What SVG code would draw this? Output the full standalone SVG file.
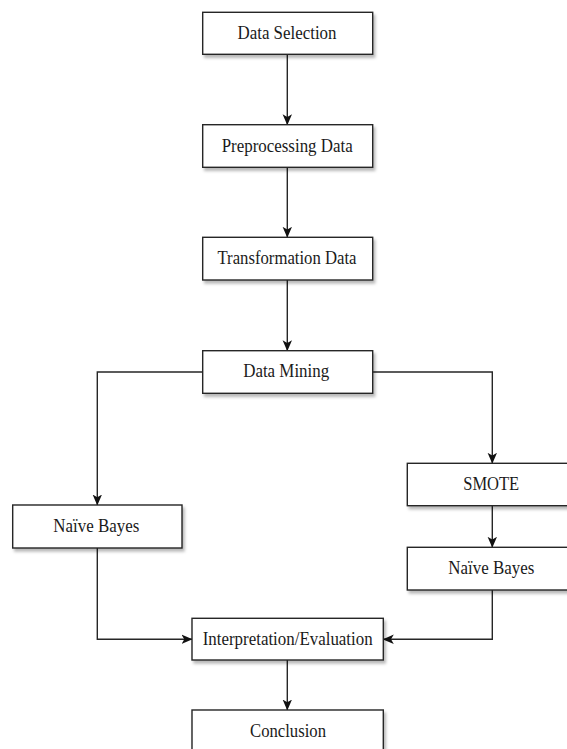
<svg xmlns="http://www.w3.org/2000/svg" width="567" height="749" viewBox="0 0 567 749">
<defs>
<style>
.box{fill:#ffffff;stroke:#262626;stroke-width:1.4;filter:url(#sh)}
.lbl{font-family:"Liberation Serif","Times New Roman",serif;font-size:18.5px;fill:#1a1a1a;text-anchor:middle}
.con{fill:none;stroke:#262626;stroke-width:1.4}
</style>
<filter id="sh" x="-10%" y="-20%" width="130%" height="160%">
<feDropShadow dx="2" dy="3" stdDeviation="1.6" flood-color="#000" flood-opacity="0.28"/>
</filter>
<marker id="arr" viewBox="0 0 11 10" refX="10.5" refY="5" markerWidth="11" markerHeight="10" markerUnits="userSpaceOnUse" orient="auto">
<path d="M0,0.3 L11,5 L0,9.7 L2.8,5 z" fill="#111"/>
</marker>
</defs>
<rect width="567" height="749" fill="#ffffff"/>
<g id="connectors">
<path class="con" d="M287.3,54.3 V124.7" marker-end="url(#arr)"/>
<path class="con" d="M287.3,167.3 V237.3" marker-end="url(#arr)"/>
<path class="con" d="M287.3,280 V350.7" marker-end="url(#arr)"/>
<path class="con" d="M202.7,372 H97.3 V505" marker-end="url(#arr)"/>
<path class="con" d="M372.7,372 H492.3 V463.3" marker-end="url(#arr)"/>
<path class="con" d="M492.3,505.7 V547.3" marker-end="url(#arr)"/>
<path class="con" d="M97.3,548 V639.3 H192" marker-end="url(#arr)"/>
<path class="con" d="M492.3,590 V639.3 H383.3" marker-end="url(#arr)"/>
<path class="con" d="M287.3,660 V710" marker-end="url(#arr)"/>
</g>
<g id="data-selection">
<rect class="box" x="202.7" y="12.3" width="170" height="42"/>
<text class="lbl" x="287" y="39" textLength="99" lengthAdjust="spacingAndGlyphs">Data Selection</text>
</g>
<g id="preprocessing">
<rect class="box" x="202.7" y="124.7" width="170" height="42.6"/>
<text class="lbl" x="287.2" y="151.7" textLength="131" lengthAdjust="spacingAndGlyphs">Preprocessing Data</text>
</g>
<g id="transformation">
<rect class="box" x="202.7" y="237.3" width="170" height="42.7"/>
<text class="lbl" x="287" y="264.4" textLength="139" lengthAdjust="spacingAndGlyphs">Transformation Data</text>
</g>
<g id="data-mining">
<rect class="box" x="202.7" y="350.7" width="170" height="42.6"/>
<text class="lbl" x="286.2" y="377.4" textLength="86" lengthAdjust="spacingAndGlyphs">Data Mining</text>
</g>
<g id="naive-bayes-left">
<rect class="box" x="12.7" y="505" width="169.3" height="43"/>
<text class="lbl" x="96.3" y="532.2" textLength="86" lengthAdjust="spacingAndGlyphs">Naïve Bayes</text>
</g>
<g id="smote">
<rect class="box" x="407.3" y="463.3" width="170" height="42.4"/>
<text class="lbl" x="491.2" y="490.2" textLength="56" lengthAdjust="spacingAndGlyphs">SMOTE</text>
</g>
<g id="naive-bayes-right">
<rect class="box" x="407.3" y="547.3" width="170" height="42.7"/>
<text class="lbl" x="491.3" y="574.4" textLength="86" lengthAdjust="spacingAndGlyphs">Naïve Bayes</text>
</g>
<g id="interpretation">
<rect class="box" x="192" y="618.3" width="191.3" height="41.7"/>
<text class="lbl" x="287.7" y="645" textLength="170" lengthAdjust="spacingAndGlyphs">Interpretation/Evaluation</text>
</g>
<g id="conclusion">
<rect class="box" x="192" y="710" width="191.3" height="42.5"/>
<text class="lbl" x="288" y="736.7" textLength="76" lengthAdjust="spacingAndGlyphs">Conclusion</text>
</g>
</svg>
